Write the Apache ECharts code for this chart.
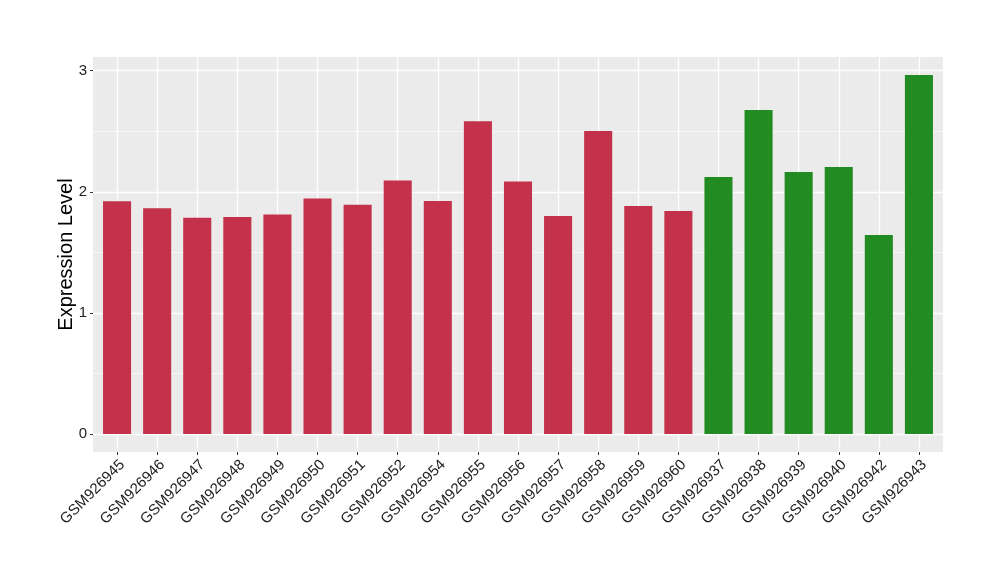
<!DOCTYPE html>
<html><head><meta charset="utf-8">
<script src="https://cdn.jsdelivr.net/npm/echarts@6/dist/echarts.min.js"></script>
<style>html,body{margin:0;padding:0;background:#fff}#c{width:1000px;height:580px}</style>
</head><body><div id="c"></div>
<script>
const categories = ['GSM926945','GSM926946','GSM926947','GSM926948','GSM926949','GSM926950','GSM926951','GSM926952','GSM926954','GSM926955','GSM926956','GSM926957','GSM926958','GSM926959','GSM926960','GSM926937','GSM926938','GSM926939','GSM926940','GSM926942','GSM926943'];
const values = [1.923,1.865,1.785,1.793,1.812,1.945,1.893,2.093,1.925,2.583,2.085,1.800,2.503,1.882,1.842,2.122,2.676,2.164,2.205,1.643,2.965];
const groups = ['r','r','r','r','r','r','r','r','r','r','r','r','r','r','r','g','g','g','g','g','g'];
const groupColors = {r:'#C3314A', g:'#228B22'};
const yTicks = [0,1,2,3];
const yMinor = [0.5,1.5,2.5];
const yMin = -0.148, yMax = 3.113;
const xIdx = categories.map((c,i)=>i);
const xMin = -0.6, xMax = categories.length - 1 + 0.6;

const font = 'Liberation Sans, Arial, Helvetica, sans-serif';
const gridLines = [];
yTicks.forEach(v => gridLines.push({yAxis: v, lineStyle:{color:'#fff', width:1.3, type:'solid'}}));
yMinor.forEach(v => gridLines.push({yAxis: v, lineStyle:{color:'#fff', width:0.6, type:'solid'}}));
xIdx.forEach(i => gridLines.push({xAxis: i, lineStyle:{color:'#fff', width:1.3, type:'solid'}}));

const chart = echarts.init(document.getElementById('c'), null, {renderer:'canvas'});
chart.setOption({
  animation:false,
  backgroundColor:'#fff',
  grid:{left:93, right:57, top:57, bottom:128, show:true, backgroundColor:'#EBEBEB', borderWidth:0},
  xAxis:{
    type:'value', min:xMin, max:xMax, position:'bottom',
    axisLine:{show:false, onZero:false},
    axisTick:{show:true, inside:false, length:3, lineStyle:{color:'#333', width:1}, customValues:xIdx},
    axisLabel:{rotate:45, color:'#222', fontSize:15, fontFamily:font, margin:5, customValues:xIdx,
      verticalAlign:'top', align:'right',
      formatter:(v)=>categories[Math.round(v)]},
    splitLine:{show:false}
  },
  yAxis:{
    type:'value', min:yMin, max:yMax, position:'left',
    name:'Expression Level', nameLocation:'middle', nameGap:17, nameMoveOverlap:false,
    nameTextStyle:{fontSize:20, color:'#000', fontFamily:font},
    axisLine:{show:false, onZero:false},
    axisTick:{show:true, inside:false, length:3, lineStyle:{color:'#333', width:1}, customValues:yTicks},
    axisLabel:{color:'#222', fontSize:15, fontFamily:font, margin:6, customValues:yTicks},
    splitLine:{show:false}
  },
  series:[
    {type:'line', data:[], z:1, silent:true, symbol:'none',
     markLine:{silent:true, z:1, symbol:['none','none'], label:{show:false}, animation:false, data:gridLines}},
    {type:'bar', z:3, barWidth:'70%',
     data:values.map((v,i)=>({value:[xIdx[i], v], itemStyle:{color:groupColors[groups[i]]}}))}
  ]
});
</script></body></html>
